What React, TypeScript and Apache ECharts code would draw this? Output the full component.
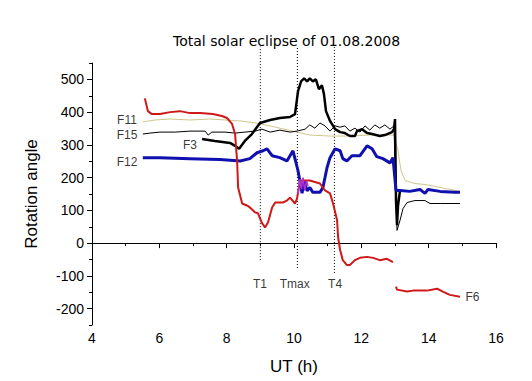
import React, { useEffect, useRef } from "react";
import * as echarts from "echarts";

const titleText = "Total solar eclipse of 01.08.2008";
const yTickValues = [-200, -100, 0, 100, 200, 300, 400, 500];

// F6 (red)
const f6: (number[] | null)[] = [
  [5.57, 442], [5.66, 403], [5.78, 394], [6.02, 394], [6.32, 400], [6.61, 403], [6.91, 397],
  [7.21, 397], [7.59, 394], [7.86, 388], [8.01, 382], [8.16, 364], [8.25, 333], [8.31, 251],
  [8.34, 170], [8.46, 121], [8.6, 115], [8.69, 109], [8.84, 94], [8.93, 91], [9.05, 61],
  [9.14, 48], [9.23, 64], [9.35, 109], [9.44, 124], [9.67, 124], [9.79, 130], [9.88, 139],
  [10.03, 121], [10.09, 136], [10.18, 191], [10.47, 191], [10.77, 182], [10.92, 161],
  [11.07, 152], [11.16, 121], [11.28, 70], [11.31, 18], [11.37, -21], [11.45, -52],
  [11.57, -67], [11.66, -67], [11.81, -52], [11.96, -45], [12.17, -42], [12.35, -45],
  [12.55, -52], [12.76, -48], [12.94, -58], null,
  [13.03, -133], [13.06, -142], [13.36, -148], [13.53, -145], [13.95, -145], [14.25, -139],
  [14.42, -148], [14.63, -158], [14.93, -164],
];

// F12 (blue)
const f12 = [
  [5.51, 261], [6.02, 261], [6.91, 258], [7.8, 255], [8.4, 251], [8.69, 258], [8.9, 276],
  [9.08, 282], [9.2, 288], [9.35, 267], [9.58, 261], [9.79, 251], [9.97, 282], [10.12, 221],
  [10.24, 152], [10.3, 191], [10.39, 160], [10.47, 170], [10.56, 155], [10.77, 155],
  [10.86, 170], [10.98, 230], [11.07, 261], [11.22, 288], [11.37, 282], [11.45, 258],
  [11.57, 251], [11.72, 267], [11.96, 267], [12.17, 297], [12.32, 288], [12.46, 264],
  [12.64, 258], [12.85, 245], [12.94, 261], [13.03, 161], [13.15, 161], [13.44, 158],
  [13.74, 164], [13.89, 152], [13.98, 164], [14.34, 158], [14.78, 155], [14.93, 155],
];

// F3 (thick black)
const f3 = [
  [7.27, 318], [7.65, 312], [8.1, 306], [8.25, 297], [8.37, 288], [8.54, 312], [8.75, 333],
  [8.99, 367], [9.29, 376], [9.58, 382], [9.88, 385], [10.03, 394], [10.12, 464], [10.21, 494],
  [10.3, 503], [10.39, 494], [10.47, 503], [10.56, 494], [10.65, 500], [10.74, 470],
  [10.83, 482], [10.89, 455], [10.95, 403], [11.07, 373], [11.22, 348], [11.37, 339],
  [11.51, 336], [11.66, 327], [11.81, 327], [11.87, 342], [12.02, 348], [12.17, 336],
  [12.32, 333], [12.55, 327], [12.7, 330], [12.91, 339], [12.97, 348], [13.0, 379],
  [13.03, 130], [13.06, 55], [13.09, 115], [13.15, 161],
];

// F15 (thin black)
const f15 = [
  [5.51, 333], [5.72, 336], [6.02, 339], [6.47, 339], [6.91, 342], [7.36, 342], [7.45, 330],
  [7.56, 339], [7.95, 339], [8.25, 336], [8.54, 339], [8.84, 342], [9.05, 348], [9.29, 339],
  [9.58, 345], [9.88, 339], [10.09, 342], [10.33, 348], [10.47, 361], [10.62, 351],
  [10.77, 367], [10.92, 358], [11.07, 342], [11.22, 358], [11.37, 354], [11.51, 358],
  [11.66, 342], [11.81, 351], [11.96, 339], [12.11, 358], [12.25, 345], [12.4, 361],
  [12.55, 351], [12.7, 361], [12.85, 348], [12.97, 358], [13.03, 130], [13.06, 39],
  [13.15, 70], [13.24, 106], [13.36, 124], [13.59, 130], [13.89, 130], [14.04, 121],
  [14.34, 121], [14.93, 121],
];

// F11 (thin olive)
const f11 = [
  [5.51, 370], [5.87, 376], [6.32, 379], [6.91, 376], [7.5, 379], [7.95, 376], [8.4, 373],
  [8.84, 367], [9.14, 361], [9.58, 351], [10.09, 339], [10.47, 330], [11.07, 327],
  [11.66, 327], [12.25, 330], [12.97, 330], [13.09, 282], [13.18, 221], [13.3, 191],
  [13.59, 182], [13.89, 179], [14.19, 173], [14.48, 167], [14.93, 158],
];

// short magenta trace near maximum
const fm = [
  [10.12, 150], [10.17, 195], [10.22, 165], [10.27, 200], [10.32, 160], [10.37, 190], [10.42, 175],
];

// contact times: [time, lower end, upper end]
const contacts = [[9.0, -52, 600], [10.1, -76, 600], [11.2, -91, 600]];

const seriesLabels = [
  [5.04, 376, "F11"], [5.04, 331, "F15"], [5.04, 248, "F12"], [6.91, 300, "F3"],
  [15.3, -164, "F6"], [8.99, -124, "T1"], [10.02, -124, "Tmax"], [11.22, -124, "T4"],
];

const FONT = "Liberation Sans, Arial, sans-serif";

export default function App() {
  const ref = useRef<HTMLDivElement>(null);
  useEffect(() => {
    const chart = echarts.init(ref.current!, null, { renderer: "svg" });
    const lineS = (name: string, data: any[], color: string, width: number) => ({
      name, type: "line", data, showSymbol: false, symbol: "none", connectNulls: false,
      lineStyle: { color, width }, itemStyle: { color }, z: 2,
    });
    chart.setOption({
      animation: false,
      backgroundColor: "#fff",
      title: {
        text: titleText, left: 168, top: 29,
        textStyle: { fontFamily: "DejaVu Sans, sans-serif", fontSize: 14, fontWeight: "normal", color: "#000" },
      },
      grid: { left: 92, right: 36, top: 63, bottom: 56 },
      xAxis: [
        {
          type: "value", min: 4, max: 16, interval: 2,
          name: "UT (h)", nameLocation: "middle", nameGap: 33,
          nameTextStyle: { fontFamily: FONT, fontSize: 17, color: "#000" },
          axisLine: { lineStyle: { color: "#000", width: 1 } },
          axisTick: { length: 5, lineStyle: { color: "#000" } },
          axisLabel: { fontFamily: FONT, fontSize: 14, color: "#000", margin: 6 },
          splitLine: { show: false },
        },
        {
          type: "value", min: 4, max: 16, interval: 1, position: "bottom",
          axisLine: { show: false },
          axisTick: { length: 3, lineStyle: { color: "#000" } },
          axisLabel: { show: false }, splitLine: { show: false },
        },
      ],
      yAxis: [
        {
          type: "value", min: -250, max: 550,
          name: "Rotation angle", nameLocation: "middle", nameGap: 52,
          nameTextStyle: { fontFamily: FONT, fontSize: 17, color: "#000" },
          axisLine: { show: true, lineStyle: { color: "#000", width: 1 } },
          axisTick: { show: true, length: 5, customValues: yTickValues, lineStyle: { color: "#000" } },
          axisLabel: { fontFamily: FONT, fontSize: 14, color: "#000", margin: 8, customValues: yTickValues },
          splitLine: { show: false },
        },
        {
          type: "value", min: -250, max: 550, interval: 50, position: "left",
          axisLine: { show: false },
          axisTick: { show: true, length: 3, lineStyle: { color: "#000" } },
          axisLabel: { show: false }, splitLine: { show: false },
        },
      ],
      series: [
        {
          type: "custom", data: contacts, clip: false, z: 1,
          renderItem: (params: any, api: any) => {
            const x = api.value(0);
            const p1 = api.coord([x, api.value(1)]);
            const p2 = api.coord([x, api.value(2)]);
            return {
              type: "line",
              shape: { x1: p1[0], y1: p1[1], x2: p2[0], y2: p2[1] },
              style: { stroke: "#000", lineWidth: 1, lineDash: [1, 2] },
            };
          },
        },
        lineS("F11", f11, "#cfc68a", 1),
        lineS("F15", f15, "#000000", 1),
        lineS("F3", f3, "#000000", 2.5),
        lineS("F12", f12, "#1010b0", 3),
        lineS("F6", f6, "#d01818", 2),
        lineS("Fm", fm, "#b030d0", 1.5),
        {
          type: "scatter", data: seriesLabels, symbolSize: 1,
          itemStyle: { color: "rgba(0,0,0,0)" }, z: 5,
          label: {
            show: true, position: "inside", color: "#000", fontFamily: FONT, fontSize: 12,
            lineHeight: 12, formatter: (p: any) => p.data[2],
          },
        },
      ],
    });
    return () => chart.dispose();
  }, []);
  return <div ref={ref} style={{ position: "absolute", left: 0, top: 0, width: 532, height: 381 }} />;
}
